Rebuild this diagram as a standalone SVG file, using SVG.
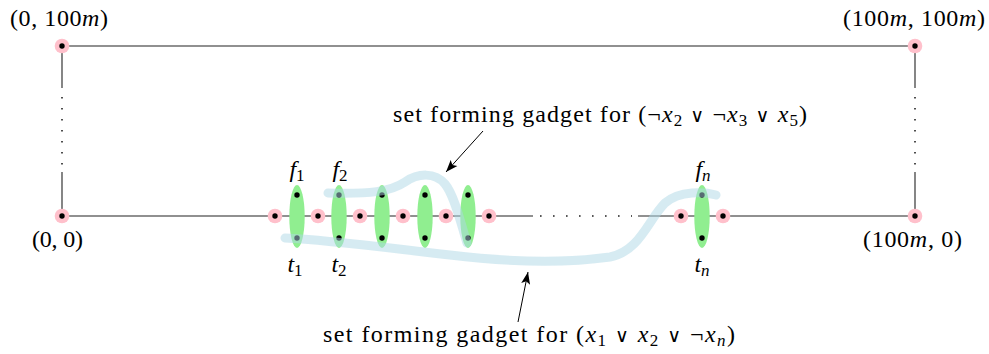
<svg xmlns="http://www.w3.org/2000/svg" width="989" height="354" viewBox="0 0 989 354">
<style>
.ln{stroke:#222;stroke-width:1.1;fill:none}
.dot{stroke:#222;stroke-width:1.6;fill:none;stroke-dasharray:1.6 9.4}
.pk{fill:#ffc0cb}
.gr{fill:#90ee90}
.bk{fill:#000}
.band{stroke:#add8e6;stroke-opacity:0.5;stroke-width:9;fill:none;stroke-linecap:round}
.arr{stroke:#000;stroke-width:1;fill:none}
.i{font-style:italic}
.s{font-size:17px;font-style:normal}
.si{font-size:17px;font-style:italic}
.sym{font-family:'DejaVu Serif',serif;font-size:19px}
.lab{text-anchor:middle}
</style>
<defs>
<marker id="ah" markerUnits="userSpaceOnUse" markerWidth="14" markerHeight="10" refX="12" refY="5" orient="auto">
<path d="M0,0.5 L12,5 L0,9.5 L2.5,5 z" fill="#000"/>
</marker>
</defs>
<g id="frame">
<line class="ln" x1="62" y1="46" x2="915" y2="46"/>
<line class="ln" x1="62" y1="46" x2="62" y2="88"/>
<line class="dot" x1="62" y1="97" x2="62" y2="166"/>
<line class="ln" x1="62" y1="172" x2="62" y2="216"/>
<line class="ln" x1="915" y1="46" x2="915" y2="88"/>
<line class="dot" x1="915" y1="97" x2="915" y2="166"/>
<line class="ln" x1="915" y1="172" x2="915" y2="216"/>
<line class="ln" x1="62" y1="216" x2="533" y2="216"/>
<line class="dot" x1="540" y1="216" x2="632" y2="216" style="stroke-dasharray:1.6 11.4"/>
<line class="ln" x1="638" y1="216" x2="915" y2="216"/>
</g>
<g id="corner-00"><circle class="pk" cx="62" cy="216" r="7.3"/><circle class="bk" cx="62" cy="216" r="2.7"/></g>
<g id="corner-0100"><circle class="pk" cx="62" cy="46" r="7.3"/><circle class="bk" cx="62" cy="46" r="2.7"/></g>
<g id="corner-1000"><circle class="pk" cx="915" cy="216" r="7.3"/><circle class="bk" cx="915" cy="216" r="2.7"/></g>
<g id="corner-100100"><circle class="pk" cx="915" cy="46" r="7.3"/><circle class="bk" cx="915" cy="46" r="2.7"/></g>
<g id="path-nodes">
<circle class="pk" cx="275" cy="216" r="7.3"/><circle class="bk" cx="275" cy="216" r="2.7"/>
<circle class="pk" cx="318" cy="216" r="7.3"/><circle class="bk" cx="318" cy="216" r="2.7"/>
<circle class="pk" cx="360" cy="216" r="7.3"/><circle class="bk" cx="360" cy="216" r="2.7"/>
<circle class="pk" cx="403" cy="216" r="7.3"/><circle class="bk" cx="403" cy="216" r="2.7"/>
<circle class="pk" cx="446" cy="216" r="7.3"/><circle class="bk" cx="446" cy="216" r="2.7"/>
<circle class="pk" cx="489" cy="216" r="7.3"/><circle class="bk" cx="489" cy="216" r="2.7"/>
<circle class="pk" cx="681" cy="216" r="7.3"/><circle class="bk" cx="681" cy="216" r="2.7"/>
<circle class="pk" cx="723" cy="216" r="7.3"/><circle class="bk" cx="723" cy="216" r="2.7"/>
</g>
<g id="gadget-1"><ellipse class="gr" cx="297" cy="216.5" rx="7.7" ry="31.5"/><circle class="bk" cx="297" cy="195" r="2.7"/><circle class="bk" cx="297" cy="238" r="2.7"/></g>
<g id="gadget-2"><ellipse class="gr" cx="339" cy="216.5" rx="7.7" ry="31.5"/><circle class="bk" cx="339" cy="195" r="2.7"/><circle class="bk" cx="339" cy="238" r="2.7"/></g>
<g id="gadget-3"><ellipse class="gr" cx="382" cy="216.5" rx="7.7" ry="31.5"/><circle class="bk" cx="382" cy="195" r="2.7"/><circle class="bk" cx="382" cy="238" r="2.7"/></g>
<g id="gadget-4"><ellipse class="gr" cx="425" cy="216.5" rx="7.7" ry="31.5"/><circle class="bk" cx="425" cy="195" r="2.7"/><circle class="bk" cx="425" cy="238" r="2.7"/></g>
<g id="gadget-5"><ellipse class="gr" cx="468" cy="216.5" rx="7.7" ry="31.5"/><circle class="bk" cx="468" cy="195" r="2.7"/><circle class="bk" cx="468" cy="238" r="2.7"/></g>
<g id="gadget-n"><ellipse class="gr" cx="702" cy="216.5" rx="7.7" ry="31.5"/><circle class="bk" cx="702" cy="195" r="2.7"/><circle class="bk" cx="702" cy="238" r="2.7"/></g>
<g id="set-gadget-1">
<path class="band" d="M328,193 C370,194 390,192 405,182 C418,173 435,172 445,184 C455,196 462,228 467,243"/>
</g>
<g id="set-gadget-2">
<path class="band" d="M285,238 C330,240 380,247 450,255 C500,261 560,264 610,257 C640,251 648,220 665,203 C680,190 705,192 716,195"/>
</g>
<g id="connectors">
<line class="arr" x1="483" y1="131" x2="446" y2="172" marker-end="url(#ah)"/>
<line class="arr" x1="518" y1="322" x2="528" y2="272" marker-end="url(#ah)"/>
</g>
<g id="labels" font-family="Liberation Serif, serif" font-size="24" fill="#000">
<text x="10" y="26" textLength="98" lengthAdjust="spacing">(0, 100<tspan class="i">m</tspan>)</text>
<text x="843" y="26" textLength="142" lengthAdjust="spacing">(100<tspan class="i">m</tspan>, 100<tspan class="i">m</tspan>)</text>
<text x="32" y="247" textLength="51" lengthAdjust="spacing">(0, 0)</text>
<text x="863" y="247" textLength="99" lengthAdjust="spacing">(100<tspan class="i">m</tspan>, 0)</text>
<text class="lab" x="297" y="177"><tspan class="i">f</tspan><tspan class="s" dy="4">1</tspan></text>
<text class="lab" x="340" y="177"><tspan class="i">f</tspan><tspan class="s" dy="4">2</tspan></text>
<text class="lab" x="703" y="177"><tspan class="i">f</tspan><tspan class="si" dy="4">n</tspan></text>
<text class="lab" x="295" y="272"><tspan class="i">t</tspan><tspan class="s" dy="4">1</tspan></text>
<text class="lab" x="339" y="272"><tspan class="i">t</tspan><tspan class="s" dy="4">2</tspan></text>
<text class="lab" x="702" y="272"><tspan class="i">t</tspan><tspan class="si" dy="4">n</tspan></text>
<text x="393" y="122" textLength="414" lengthAdjust="spacing">set forming gadget for (¬<tspan class="i">x</tspan><tspan class="s" dy="4">2</tspan><tspan dy="-4"> </tspan><tspan class="sym">∨</tspan> ¬<tspan class="i">x</tspan><tspan class="s" dy="4">3</tspan><tspan dy="-4"> </tspan><tspan class="sym">∨</tspan> <tspan class="i">x</tspan><tspan class="s" dy="4">5</tspan><tspan dy="-4">)</tspan></text>
<text x="323" y="342" textLength="412" lengthAdjust="spacing">set forming gadget for (<tspan class="i">x</tspan><tspan class="s" dy="4">1</tspan><tspan dy="-4"> </tspan><tspan class="sym">∨</tspan> <tspan class="i">x</tspan><tspan class="s" dy="4">2</tspan><tspan dy="-4"> </tspan><tspan class="sym">∨</tspan> ¬<tspan class="i">x</tspan><tspan class="si" dy="4">n</tspan><tspan dy="-4">)</tspan></text>
</g>
</svg>
